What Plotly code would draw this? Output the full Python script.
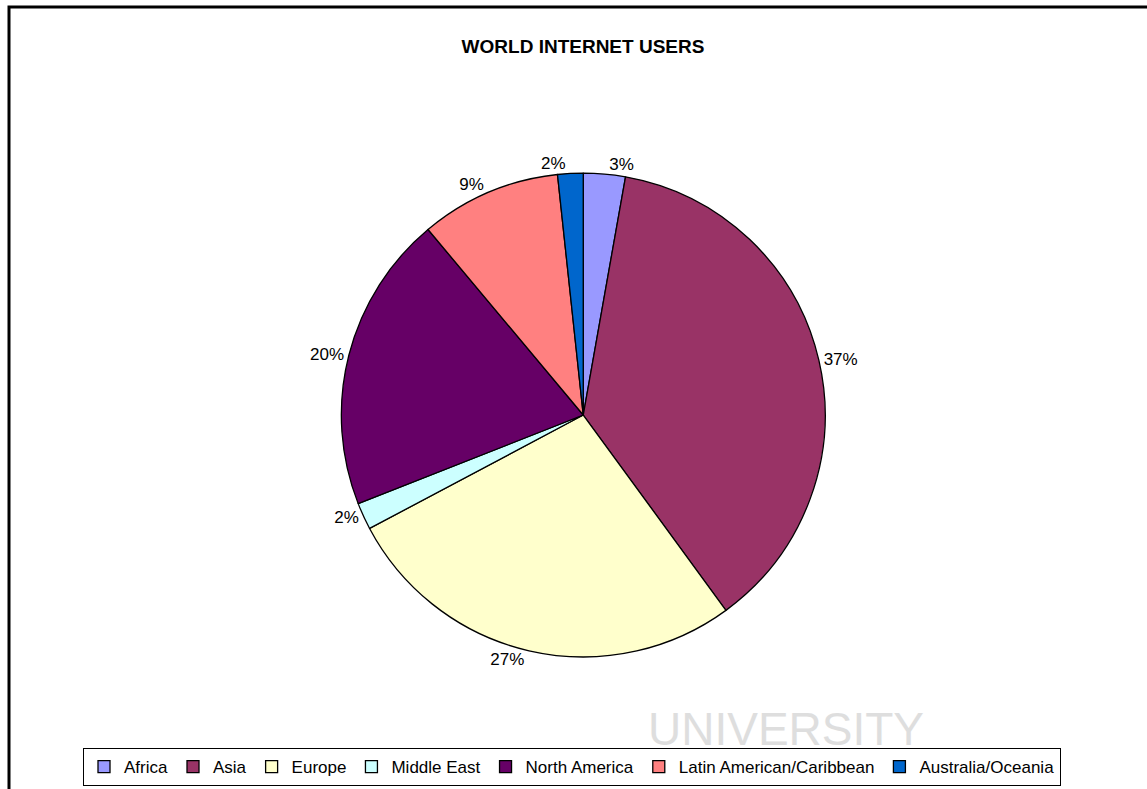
import plotly.graph_objects as go

regions = ["Africa", "Asia", "Europe", "Middle East", "North America",
           "Latin American/Caribbean", "Australia/Oceania"]
shares = [2.8, 37.2, 27.3, 1.8, 19.9, 9.4, 1.7]
colors = ["#9999FF", "#993366", "#FFFFCC", "#CCFFFF", "#660066", "#FF8080", "#0066CC"]
title_text = "WORLD INTERNET USERS"

W, H = 1147, 789
FONT = "Arial, Liberation Sans, sans-serif"

fig = go.Figure(go.Pie(
    labels=regions,
    values=shares,
    sort=False,
    direction="clockwise",
    rotation=0,
    marker=dict(colors=colors, line=dict(color="black", width=1.3)),
    textposition="outside",
    texttemplate="%{percent:.0%}",
    textfont=dict(family=FONT, size=17, color="black"),
    outsidetextfont=dict(family=FONT, size=17, color="black"),
    hole=0,
    domain=dict(x=[0.2976, 0.7194], y=[0.1669, 0.7811]),
))

fig.update_layout(
    width=W, height=H,
    margin=dict(l=0, r=0, t=0, b=0),
    paper_bgcolor="white",
    plot_bgcolor="white",
    title=dict(text="<b>" + title_text + "</b>", x=583 / W, xanchor="center",
               y=1 - 46 / H, yanchor="middle",
               font=dict(family=FONT, size=19, color="black")),
    showlegend=True,
    legend=dict(orientation="h", x=572 / W, xanchor="center",
                y=1 - 748 / H, yanchor="top",
                bordercolor="black", borderwidth=1,
                font=dict(family=FONT, size=17, color="black"),
                traceorder="normal"),
    shapes=[dict(type="rect", xref="paper", yref="paper",
                 x0=9 / W, x1=1.02, y0=-0.02, y1=1 - 7 / H,
                 line=dict(color="black", width=3), layer="above")],
    annotations=[dict(text="UNIVERSITY", x=786 / W, y=1 - 729 / H,
                      xref="paper", yref="paper", xanchor="center", yanchor="middle",
                      showarrow=False,
                      font=dict(family=FONT, size=46, color="#dedede"))],
)

fig.write_html("out.html")
